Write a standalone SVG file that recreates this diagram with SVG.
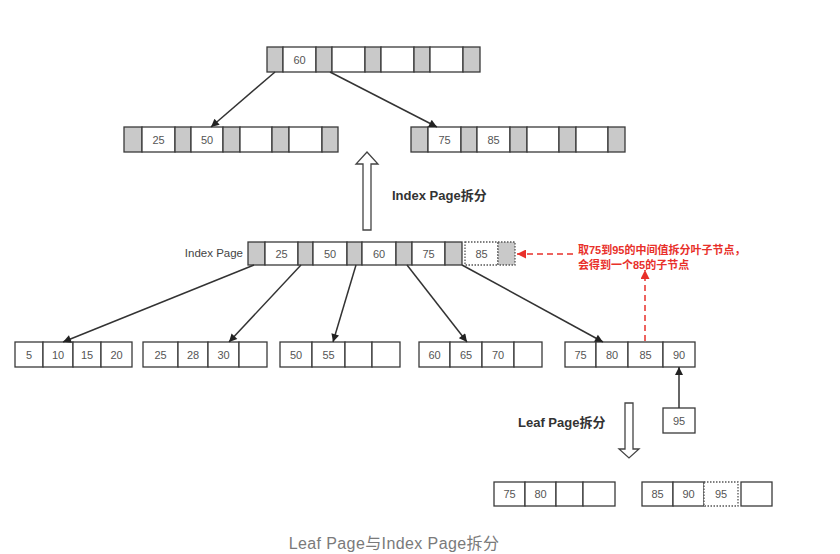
<svg xmlns="http://www.w3.org/2000/svg" width="840" height="554" viewBox="0 0 840 554">
<defs>
<style>
.g{fill:#c9c9c9;stroke:#3a3a3a;stroke-width:1.3}
.w{fill:#fff;stroke:#3a3a3a;stroke-width:1.3}
.dw{fill:#fff;stroke:#555;stroke-width:1.3;stroke-dasharray:1.5 1.5}
.dg{fill:#c9c9c9;stroke:#555;stroke-width:1.3;stroke-dasharray:1.5 1.5}
.t{font-family:"Liberation Sans",Arial,sans-serif;font-size:11px;fill:#555;text-anchor:middle}
.lbl{font-family:"Liberation Sans","Noto Sans CJK SC",sans-serif;font-size:13px;font-weight:bold;fill:#333}
.red{font-family:"Liberation Sans","Noto Sans CJK SC",sans-serif;font-size:11px;font-weight:bold;fill:#e8302a}
.c{stroke:#333;stroke-width:1.5;fill:none;marker-end:url(#ah)}
.rc{stroke:#e8302a;stroke-width:1.5;fill:none;stroke-dasharray:6 4;marker-end:url(#rah)}
.hol{fill:#fff;stroke:#444;stroke-width:1.3}
</style>
<marker id="ah" viewBox="0 0 10 10" refX="10" refY="5" markerWidth="9" markerHeight="8" orient="auto" markerUnits="userSpaceOnUse">
<path d="M0,0 L10,5 L0,10 z" fill="#222"/>
</marker>
<marker id="rah" viewBox="0 0 10 10" refX="10" refY="5" markerWidth="9" markerHeight="9" orient="auto" markerUnits="userSpaceOnUse">
<path d="M0,0 L10,5 L0,10 z" fill="#e8302a"/>
</marker>
</defs>
<rect width="840" height="554" fill="#fff"/>

<g id="root">
<rect class="g" x="267" y="47" width="16" height="25"/>
<rect class="w" x="283" y="47" width="33" height="25"/>
<rect class="g" x="316" y="47" width="16" height="25"/>
<rect class="w" x="332" y="47" width="33" height="25"/>
<rect class="g" x="365" y="47" width="16" height="25"/>
<rect class="w" x="381" y="47" width="33" height="25"/>
<rect class="g" x="414" y="47" width="16" height="25"/>
<rect class="w" x="430" y="47" width="33" height="25"/>
<rect class="g" x="463" y="47" width="17" height="25"/>
<text class="t" x="299.5" y="63.5">60</text>
</g>

<g id="idx-left">
<rect class="g" x="124" y="127" width="18" height="25"/>
<rect class="w" x="142" y="127" width="33" height="25"/>
<rect class="g" x="175" y="127" width="16" height="25"/>
<rect class="w" x="191" y="127" width="32" height="25"/>
<rect class="g" x="223" y="127" width="17" height="25"/>
<rect class="w" x="240" y="127" width="32" height="25"/>
<rect class="g" x="272" y="127" width="17" height="25"/>
<rect class="w" x="289" y="127" width="33" height="25"/>
<rect class="g" x="322" y="127" width="16" height="25"/>
<text class="t" x="158.5" y="143.5">25</text>
<text class="t" x="207" y="143.5">50</text>
</g>

<g id="idx-right">
<rect class="g" x="411" y="127" width="17" height="25"/>
<rect class="w" x="428" y="127" width="33" height="25"/>
<rect class="g" x="461" y="127" width="16" height="25"/>
<rect class="w" x="477" y="127" width="33" height="25"/>
<rect class="g" x="510" y="127" width="17" height="25"/>
<rect class="w" x="527" y="127" width="32" height="25"/>
<rect class="g" x="559" y="127" width="17" height="25"/>
<rect class="w" x="576" y="127" width="32" height="25"/>
<rect class="g" x="608" y="127" width="17" height="25"/>
<text class="t" x="444.5" y="143.5">75</text>
<text class="t" x="493.5" y="143.5">85</text>
</g>

<g id="split-index">
<path class="hol" d="M363,230 L363,164 L356,164 L367,152 L378,164 L371,164 L371,230 Z"/>
<text class="lbl" x="392" y="199.5">Index Page拆分</text>
</g>

<g id="index-page">
<text x="243" y="257" text-anchor="end" style="font-family:'Liberation Sans',Arial,sans-serif;font-size:11.5px;fill:#444">Index Page</text>
<rect class="g" x="248" y="242" width="17" height="23"/>
<rect class="w" x="265" y="242" width="33" height="23"/>
<rect class="g" x="298" y="242" width="15" height="23"/>
<rect class="w" x="313" y="242" width="34" height="23"/>
<rect class="g" x="347" y="242" width="15" height="23"/>
<rect class="w" x="362" y="242" width="34" height="23"/>
<rect class="g" x="396" y="242" width="16" height="23"/>
<rect class="w" x="412" y="242" width="33" height="23"/>
<rect class="g" x="445" y="242" width="17" height="23"/>
<text class="t" x="281.5" y="257.5">25</text>
<text class="t" x="330" y="257.5">50</text>
<text class="t" x="379" y="257.5">60</text>
<text class="t" x="428.5" y="257.5">75</text>
<rect class="dw" x="465" y="242" width="33" height="23"/>
<rect class="dg" x="498" y="242" width="17" height="23"/>
<text class="t" x="481.5" y="257.5">85</text>
</g>

<g id="note">
<text class="red" x="578" y="254">取75到95的中间值拆分叶子节点，</text>
<text class="red" x="578" y="269">会得到一个85的子节点</text>
</g>

<g id="leaf1">
<rect class="w" x="15" y="342" width="28" height="25"/>
<rect class="w" x="43" y="342" width="30" height="25"/>
<rect class="w" x="73" y="342" width="28" height="25"/>
<rect class="w" x="101" y="342" width="31" height="25"/>
<text class="t" x="29" y="358.5">5</text>
<text class="t" x="58" y="358.5">10</text>
<text class="t" x="87" y="358.5">15</text>
<text class="t" x="116.5" y="358.5">20</text>
</g>

<g id="leaf2">
<rect class="w" x="143" y="342" width="35" height="25"/>
<rect class="w" x="178" y="342" width="30" height="25"/>
<rect class="w" x="208" y="342" width="31" height="25"/>
<rect class="w" x="239" y="342" width="28" height="25"/>
<text class="t" x="160.5" y="358.5">25</text>
<text class="t" x="193" y="358.5">28</text>
<text class="t" x="223.5" y="358.5">30</text>
</g>

<g id="leaf3">
<rect class="w" x="280" y="342" width="32" height="25"/>
<rect class="w" x="312" y="342" width="33" height="25"/>
<rect class="w" x="345" y="342" width="27" height="25"/>
<rect class="w" x="372" y="342" width="28" height="25"/>
<text class="t" x="296" y="358.5">50</text>
<text class="t" x="328.5" y="358.5">55</text>
</g>

<g id="leaf4">
<rect class="w" x="419" y="342" width="31" height="25"/>
<rect class="w" x="450" y="342" width="32" height="25"/>
<rect class="w" x="482" y="342" width="32" height="25"/>
<rect class="w" x="514" y="342" width="28" height="25"/>
<text class="t" x="434.5" y="358.5">60</text>
<text class="t" x="466" y="358.5">65</text>
<text class="t" x="498" y="358.5">70</text>
</g>

<g id="leaf5">
<rect class="w" x="565" y="342" width="31" height="25"/>
<rect class="w" x="596" y="342" width="32" height="25"/>
<rect class="w" x="628" y="342" width="35" height="25"/>
<rect class="w" x="663" y="342" width="32" height="25"/>
<text class="t" x="580.5" y="358.5">75</text>
<text class="t" x="612" y="358.5">80</text>
<text class="t" x="645.5" y="358.5">85</text>
<text class="t" x="679" y="358.5">90</text>
</g>

<g id="new-95">
<rect class="w" x="663" y="408" width="32" height="25"/>
<text class="t" x="679" y="424.5">95</text>
</g>

<g id="split-leaf">
<path class="hol" d="M625,403 L633,403 L633,449 L639,449 L629,458 L619,449 L625,449 Z"/>
<text class="lbl" x="518" y="426.5">Leaf Page拆分</text>
</g>

<g id="leaf-a">
<rect class="w" x="494" y="482" width="31" height="24"/>
<rect class="w" x="525" y="482" width="31" height="24"/>
<rect class="w" x="556" y="482" width="27" height="24"/>
<rect class="w" x="583" y="482" width="32" height="24"/>
<text class="t" x="509.5" y="498">75</text>
<text class="t" x="540.5" y="498">80</text>
</g>

<g id="leaf-b">
<rect class="w" x="642" y="482" width="31" height="24"/>
<rect class="w" x="673" y="482" width="31" height="24"/>
<rect class="dw" x="704" y="482" width="34" height="24"/>
<rect class="w" x="741" y="482" width="31" height="24"/>
<text class="t" x="657.5" y="498">85</text>
<text class="t" x="688.5" y="498">90</text>
<text class="t" x="721" y="498">95</text>
</g>

<g id="connectors">
<line class="c" x1="275" y1="72" x2="211" y2="127"/>
<line class="c" x1="330" y1="72" x2="437" y2="127"/>
<line class="c" x1="254" y1="265" x2="63" y2="342"/>
<line class="c" x1="301" y1="265" x2="229" y2="342"/>
<line class="c" x1="356" y1="265" x2="333" y2="342"/>
<line class="c" x1="407" y1="265" x2="467" y2="342"/>
<line class="c" x1="462" y1="265" x2="603" y2="342"/>
<line class="c" x1="679" y1="408" x2="679" y2="367"/>
<line class="rc" x1="573" y1="254" x2="517" y2="254"/>
<line class="rc" x1="645" y1="341" x2="645" y2="270"/>
</g>

<text x="394" y="549" text-anchor="middle" style="font-family:'Liberation Sans','Noto Sans CJK SC',sans-serif;font-size:16px;fill:#7a7a7a;letter-spacing:0.4px">Leaf Page与Index Page拆分</text>
</svg>
